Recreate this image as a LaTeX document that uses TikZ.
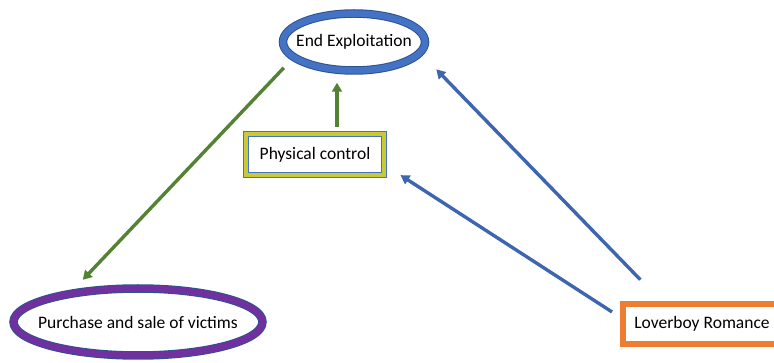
\documentclass[tikz,border=0pt]{standalone}
\usepackage{fontspec}
\setmainfont{Carlito}
\usetikzlibrary{shapes.geometric,arrows.meta}

\definecolor{ringblue}{HTML}{4472C4}
\definecolor{edgeblue}{HTML}{2F528F}
\definecolor{ringpurple}{HTML}{7030A0}
\definecolor{boxyellow}{HTML}{C8C838}
\definecolor{boxorange}{HTML}{ED7D31}
\definecolor{arrowgreen}{HTML}{548235}
\definecolor{arrowblue}{HTML}{3E66B0}

\tikzset{
  x=1pt, y=-1pt,
  lbl/.style={font=\fontsize{17.5}{20}\selectfont, text=black, inner sep=0pt},
  ring/.style={ellipse, inner sep=0pt, fill=white, draw=edgeblue, line width=8.5pt,
    postaction={draw=#1, line width=6.5pt}},
  link/.style={line width=3.4pt, -{Triangle[length=9pt,width=10pt]}},
}

\begin{document}
\begin{tikzpicture}
  \useasboundingbox (0,0) rectangle (774,363);
  \clip (0,0) rectangle (774,363);

  % goal and outcome ellipses (fixed size, text set as a centred label)
  \node[ring=ringblue, minimum width=142pt, minimum height=57pt,
        label={[lbl]center:End Exploitation}] (endx) at (354,42) {};
  \node[ring=ringpurple, minimum width=249pt, minimum height=67pt,
        label={[lbl]center:Purchase and sale of victims}] (purch) at (138,322) {};

  % control box with blue/yellow/blue frame
  \node[lbl, rectangle, fill=white, draw=ringblue, line width=0.9pt, double=boxyellow,
        double distance=4pt, minimum width=138pt, minimum height=41pt] (phys) at (315,154.5) {Physical control};

  % recruitment box, running past the right edge
  \node[rectangle, fill=white, draw=boxorange, line width=6pt,
        minimum width=158pt, minimum height=40pt,
        label={[lbl]center:Loverboy Romance}] (lover) at (702,324) {};

  % connectors
  \draw[link, draw=arrowgreen, fill=arrowgreen, shorten <=10.7pt, shorten >=13pt]
    (endx.196.9) -- (purch.153.4);
  \draw[link, draw=arrowgreen, fill=arrowgreen, shorten <=7pt, shorten >=8pt]
    ([xshift=22pt]phys.north) -- ([xshift=22pt]phys.north |- endx.south);
  \draw[link, draw=arrowblue, fill=arrowblue, shorten <=29.7pt, shorten >=19.5pt]
    ([xshift=41pt]lover.north west) -- (endx.349.3);
  \draw[link, draw=arrowblue, fill=arrowblue, shorten <=9.5pt, shorten >=19pt]
    ([yshift=6.9pt]lover.west) -- ([yshift=-10.3pt]phys.east);
\end{tikzpicture}
\end{document}
